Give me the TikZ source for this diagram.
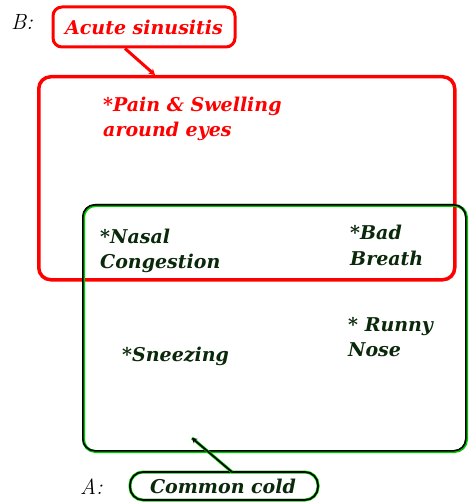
\documentclass[tikz,border=0pt]{standalone}
\usepackage{fontspec}
\newfontfamily\slab{DejaVu Serif}
\usetikzlibrary{arrows.meta}
\definecolor{myred}{RGB}{255,0,0}
\definecolor{mygreen}{RGB}{0,200,0}
\definecolor{dkgreen}{RGB}{10,40,10}
\tikzset{
  sfont/.style={font=\slab\bfseries\itshape\fontsize{19}{24}\selectfont},
  redtxt/.style={sfont, text=myred, anchor=base west, inner sep=0pt},
  grtxt/.style={sfont, text=dkgreen, anchor=base west, inner sep=0pt},
  lbl/.style={font=\itshape\fontsize{22}{24}\selectfont, inner sep=0pt, anchor=base west}
}
\begin{document}
\begin{tikzpicture}[x=1pt,y=-1pt]
\useasboundingbox (0,0) rectangle (468,502);
% red box
\node[draw=myred, line width=3.5pt, rounded corners=12pt, minimum width=416pt, minimum height=203pt, anchor=north west] (rbox) at (37,75) {};
% green box
\node[draw=mygreen, line width=3pt, rounded corners=12pt, minimum width=383pt, minimum height=246pt, anchor=north west] (gbox) at (82,204) {};
\node[draw=black, line width=1.6pt, rounded corners=12pt, minimum width=383pt, minimum height=246pt, anchor=north west] (gbox2) at (82,204) {};
% labels
\node[draw=myred, line width=3pt, rounded corners=9pt, minimum width=182pt, minimum height=40pt, inner sep=0pt] (acute) at (144,27) {};
\node[sfont, text=myred, inner sep=0pt, anchor=base] (acutet) at (144,35) {Acute sinusitis};
\node[lbl] (B) at (11,30) {B:};
\node[draw=mygreen, line width=3pt, rounded corners=13pt, minimum width=188pt, minimum height=28pt, inner sep=0pt] (cold0) at (224,486) {};
\node[draw=black, line width=1.6pt, rounded corners=13pt, minimum width=188pt, minimum height=28pt, inner sep=0pt] (cold) at (224,486) {};
\node[sfont, text=dkgreen, inner sep=0pt, anchor=base] (coldt) at (223,493) {Common cold};
\node[lbl] (A) at (80,494) {A:};
% texts
\node[redtxt] (pain1) at (103,112) {*Pain \& Swelling};
\node[redtxt] (pain2) at (103,137) {around eyes};
\node[grtxt] (nasal1) at (100,243) {*Nasal};
\node[grtxt] (nasal2) at (100,268) {Congestion};
\node[grtxt] (bad1) at (350,240) {*Bad};
\node[grtxt] (bad2) at (350,265) {Breath};
\node[grtxt] (runny1) at (348,331) {* Runny};
\node[grtxt] (runny2) at (348,356) {Nose};
\node[grtxt] (sneez) at (122,361) {*Sneezing};
% connectors
\coordinate (ra) at (155,75);
\draw[myred, line width=3pt, -{Stealth[length=6pt,width=7pt]}] (acute.south) ++(-19,0) coordinate (rs) (rs) -- (ra);
\coordinate (ga) at (192,438);
\coordinate (gs) at (232,472);
\draw[mygreen, line width=3pt] (gs) -- (ga);
\draw[black, line width=1.6pt, -{Stealth[length=5pt,width=6pt]}] (gs) -- (ga);
\end{tikzpicture}
\end{document}
